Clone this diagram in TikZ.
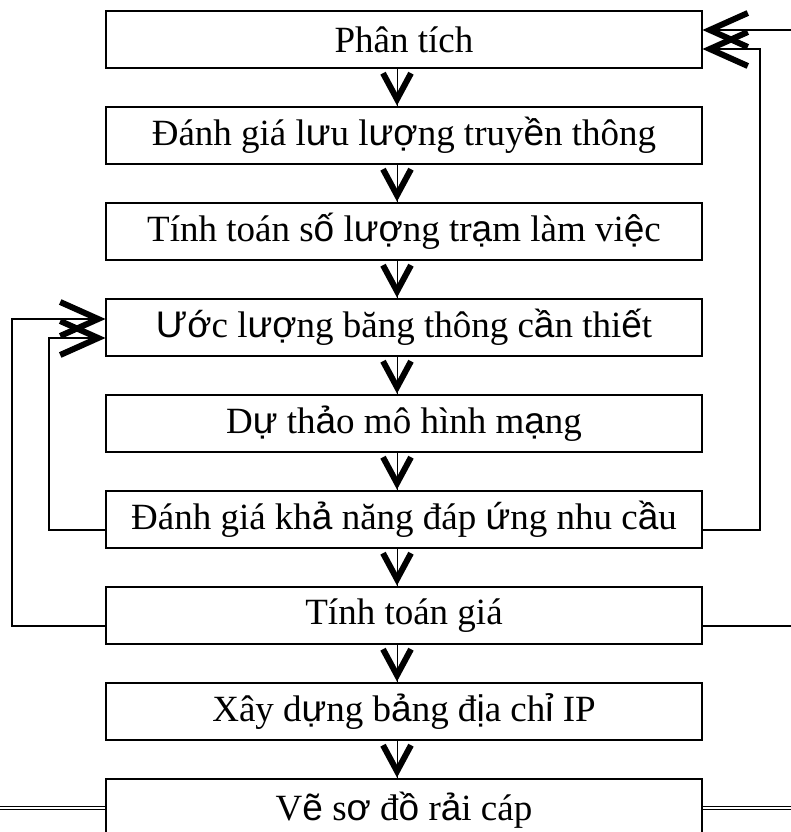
\documentclass[tikz,border=0pt]{standalone}
\usepackage{fontspec}
\setmainfont{Liberation Serif}
\newfontfamily\fbkfont{Liberation Sans}
\newcommand\fb[1]{{\fbkfont #1}}
\begin{document}
\begin{tikzpicture}[x=1pt,y=-1pt,
  stagebox/.style={draw,line width=1.6pt,minimum width=596pt,minimum height=57pt,inner sep=0pt,
    font=\fontsize{37}{40}\selectfont},
  chev/.style={line width=6pt,line join=miter,line cap=butt},
  fbline/.style={line width=1.6pt},
  stem/.style={line width=0.8pt}]
\useasboundingbox (0,0) rectangle (791,832);
\node[stagebox] (b1) at (404,39.5) {Phân tích};
\node[stagebox] (b2) at (404,135.5) {Đánh giá l\fb{ư}u l\fb{ượ}ng truy\fb{ề}n thông};
\node[stagebox] (b3) at (404,231.5) {Tính toán s\fb{ố} l\fb{ượ}ng tr\fb{ạ}m làm vi\fb{ệ}c};
\node[stagebox] (b4) at (404,327.5) {\fb{Ướ}c l\fb{ượ}ng băng thông c\fb{ầ}n thi\fb{ế}t};
\node[stagebox] (b5) at (404,423.5) {D\fb{ự} th\fb{ả}o mô hình m\fb{ạ}ng};
\node[stagebox] (b6) at (404,519.5) {Đánh giá kh\fb{ả} năng đáp \fb{ứ}ng nhu c\fb{ầ}u};
\node[stagebox] (b7) at (404,615.5) {Tính toán giá};
\node[stagebox] (b8) at (404,711.5) {Xây d\fb{ự}ng b\fb{ả}ng đ\fb{ị}a ch\fb{ỉ} IP};
\node[stagebox,minimum height=62pt] (b9) at (404,810) {V\fb{ẽ} s\fb{ơ} đ\fb{ồ} r\fb{ả}i cáp};
% down arrows
\foreach \a/\b in {b1/b2,b2/b3,b3/b4,b4/b5,b5/b6,b6/b7,b7/b8,b8/b9}{
  \draw[stem] (\a.south -| 397,0) -- (\b.north -| 397,0);
  \draw[chev] ([xshift=-14pt,yshift=33pt]\b.north -| 397,0) -- ([yshift=7pt]\b.north -| 397,0) -- ([xshift=14pt,yshift=33pt]\b.north -| 397,0);
}
% arrow tip points of feedback loops
\coordinate (rt1) at ([xshift=7pt,yshift=9.5pt]b1.east);   % y = 30
\coordinate (rt2) at ([xshift=7pt,yshift=-9.5pt]b1.east);  % y = 49
\coordinate (lt1) at ([xshift=-7pt,yshift=8.5pt]b4.west);  % y = 319
\coordinate (lt2) at ([xshift=-7pt,yshift=-10.5pt]b4.west);% y = 338
% right feedback
\draw[fbline] ([yshift=-10.5pt]b7.east) -- (794,626) -- (794,30) -- (rt1);
\draw[fbline] ([yshift=-10.5pt]b6.east) -- (760,530) -- (760,49) -- (rt2);
\draw[chev] ([xshift=38pt,yshift=17pt]rt1) -- (rt1) -- ([xshift=38pt,yshift=-17pt]rt1);
\draw[chev] ([xshift=38pt,yshift=17pt]rt2) -- (rt2) -- ([xshift=38pt,yshift=-17pt]rt2);
% left feedback
\draw[fbline] ([yshift=-10.5pt]b7.west) -- (12,626) -- (12,319) -- (lt1);
\draw[fbline] ([yshift=-10.5pt]b6.west) -- (49,530) -- (49,338) -- (lt2);
\draw[chev] ([xshift=-38pt,yshift=17pt]lt1) -- (lt1) -- ([xshift=-38pt,yshift=-17pt]lt1);
\draw[chev] ([xshift=-38pt,yshift=17pt]lt2) -- (lt2) -- ([xshift=-38pt,yshift=-17pt]lt2);
% bottom double lines
\coordinate (lend) at (0,808);
\coordinate (rend) at (791,808);
\draw[line width=0.9pt,double,double distance=2pt] (lend) -- (b9.west |- lend);
\draw[line width=0.9pt,double,double distance=2pt] (b9.east |- rend) -- (rend);
\end{tikzpicture}
\end{document}
